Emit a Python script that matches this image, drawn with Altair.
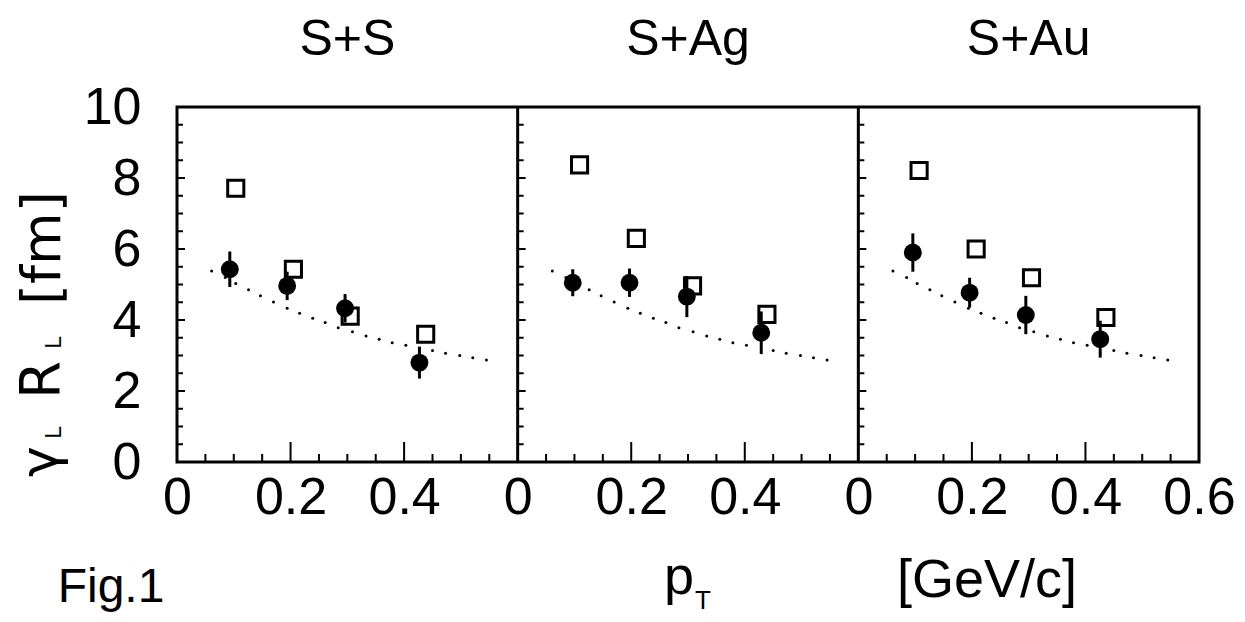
import altair as alt
import pandas as pd

# ---------------- data ----------------
PANELS = ["S+S", "S+Ag", "S+Au"]
PANEL_SPAN = 0.6   # each panel covers pT = 0 .. 0.6 GeV/c
X_MAX = 1.8        # three panels side by side

# filled circles (measured) with error bars
CIRC_X = [[0.093, 0.194, 0.296, 0.427],
          [0.097, 0.197, 0.298, 0.429],
          [0.096, 0.196, 0.295, 0.426]]
CIRC_Y = [[5.43, 4.96, 4.33, 2.80],
          [5.05, 5.05, 4.66, 3.64],
          [5.90, 4.77, 4.14, 3.46]]
CIRC_ERR = [[0.50, 0.40, 0.40, 0.45],
            [0.38, 0.40, 0.58, 0.60],
            [0.54, 0.42, 0.54, 0.52]]

# open squares
SQ_X = [[0.1035, 0.205, 0.305, 0.438],
        [0.109, 0.209, 0.308, 0.439],
        [0.107, 0.2075, 0.305, 0.436]]
SQ_Y = [[7.71, 5.43, 4.11, 3.60],
        [8.37, 6.30, 4.96, 4.16],
        [8.21, 6.00, 5.19, 4.07]]

# dotted curve (same in all panels)
CURVE_X = [0.061, 0.085, 0.1035, 0.126, 0.147, 0.170, 0.194, 0.216, 0.239, 0.261,
           0.284, 0.309, 0.333, 0.356, 0.379, 0.403, 0.450, 0.473, 0.498, 0.521, 0.545]
CURVE_Y = [5.38, 5.20, 5.03, 4.85, 4.68, 4.51, 4.33, 4.19, 4.05, 3.93,
           3.78, 3.67, 3.55, 3.46, 3.36, 3.29, 3.14, 3.06, 3.00, 2.94, 2.87]

# axis decoration
X_MAJOR = [0.2, 0.4]
X_MINOR = [0.05, 0.1, 0.15, 0.25, 0.3, 0.35, 0.45, 0.5, 0.55]
Y_MAJOR = [2, 4, 6, 8]
Y_MINOR = [0.5, 1, 1.5, 2.5, 3, 3.5, 4.5, 5, 5.5, 6.5, 7, 7.5, 8.5, 9, 9.5]
X_LABEL_VALUES = [0, 0.2, 0.4, 0.6, 0.8, 1.0, 1.2, 1.4, 1.6, 1.8]
Y_LABEL_VALUES = [0, 2, 4, 6, 8, 10]

# ---------------- tables ----------------
circ = pd.DataFrame([
    {"p": p, "x": x, "y": y, "e": e}
    for p in range(3)
    for x, y, e in zip(CIRC_X[p], CIRC_Y[p], CIRC_ERR[p])
])
sq = pd.DataFrame([
    {"p": p, "x": x, "y": y}
    for p in range(3)
    for x, y in zip(SQ_X[p], SQ_Y[p])
])
curve = pd.DataFrame([
    {"p": p, "x": x, "y": y}
    for p in range(3)
    for x, y in zip(CURVE_X, CURVE_Y)
])
xt_major = pd.DataFrame([{"p": p, "x": v} for p in range(3) for v in X_MAJOR])
xt_minor = pd.DataFrame([{"p": p, "x": v} for p in range(3) for v in X_MINOR])
yt_major = pd.DataFrame([{"p": p, "x": 0.0, "y": v} for p in range(3) for v in Y_MAJOR])
yt_minor = pd.DataFrame([{"p": p, "x": 0.0, "y": v} for p in range(3) for v in Y_MINOR])
dividers = pd.DataFrame({"p": [1, 2], "x": [0.0, 0.0]})
titles = pd.DataFrame({"p": [0, 1, 2], "x": [0.3, 0.3, 0.3], "t": PANELS})

shift = f"datum.x + {PANEL_SPAN} * datum.p"

xscale = alt.Scale(domain=[0, X_MAX], nice=False, zero=False)
yscale = alt.Scale(domain=[0, 10], nice=False, zero=False)

label_expr = (
    "datum.value > 1.75 ? '0.6' : "
    "(round(datum.value*10) % 6 == 0 ? '0' : format((round(datum.value*10) % 6)/10, '.1f'))"
)

X = alt.X("xs:Q", scale=xscale,
          axis=alt.Axis(values=X_LABEL_VALUES, labelExpr=label_expr, title=None,
                        labelPadding=10, labelFlush=False, labelOverlap=False))
Y = alt.Y("y:Q", scale=yscale,
          axis=alt.Axis(values=Y_LABEL_VALUES, title=None, labelPadding=36,
                        labelFlush=False, labelOverlap=False))

FONT = "Liberation Sans"

base_points = alt.Chart(circ).transform_calculate(xs=shift)

err = base_points.transform_calculate(lo="datum.y - datum.e", hi="datum.y + datum.e").mark_rule(
    color="black", strokeWidth=3
).encode(x=X, y=alt.Y("lo:Q", scale=yscale), y2="hi:Q")

circles = base_points.mark_circle(color="black", opacity=1, size=320).encode(x=X, y=Y)

squares = alt.Chart(sq).transform_calculate(xs=shift).mark_point(
    shape="square", filled=False, color="black", strokeWidth=3, size=260, opacity=1
).encode(x=X, y=Y)

dots = alt.Chart(curve).transform_calculate(xs=shift).mark_circle(
    color="black", opacity=1, size=9
).encode(x=X, y=Y)

div = alt.Chart(dividers).transform_calculate(xs=shift).mark_rule(
    color="black", strokeWidth=3
).encode(x=alt.X("xs:Q", scale=xscale), y=alt.value(0), y2=alt.value(355))

xmaj = alt.Chart(xt_major).transform_calculate(xs=shift).mark_tick(
    orient="vertical", size=20, thickness=2, yOffset=-10, color="black", opacity=1
).encode(x=alt.X("xs:Q", scale=xscale), y=alt.value(355))
xmin = alt.Chart(xt_minor).transform_calculate(xs=shift).mark_tick(
    orient="vertical", size=8, thickness=2, yOffset=-4, color="black", opacity=1
).encode(x=alt.X("xs:Q", scale=xscale), y=alt.value(355))
ymaj = alt.Chart(yt_major).transform_calculate(xs=shift).mark_tick(
    orient="horizontal", size=8, thickness=2, xOffset=4, color="black", opacity=1
).encode(x=alt.X("xs:Q", scale=xscale), y=alt.Y("y:Q", scale=yscale))
ymin = alt.Chart(yt_minor).transform_calculate(xs=shift).mark_tick(
    orient="horizontal", size=6, thickness=2, xOffset=3, color="black", opacity=1
).encode(x=alt.X("xs:Q", scale=xscale), y=alt.Y("y:Q", scale=yscale))

title_text = alt.Chart(titles).transform_calculate(xs=shift).mark_text(
    font=FONT, fontSize=50, baseline="alphabetic", align="center", color="black"
).encode(x=alt.X("xs:Q", scale=xscale), y=alt.value(-52), text="t:N")


def label(text, x, y, size, font=FONT, align="center", angle=0):
    kw = dict(font=font, fontSize=size, baseline="alphabetic", align=align, color="black")
    if angle:
        kw["angle"] = angle
    return alt.Chart(pd.DataFrame({"t": [text]})).mark_text(**kw).encode(
        x=alt.value(x), y=alt.value(y), text="t:N"
    )


bottom = [
    label("Fig.1", -66, 495, 48),
    label("p", 502, 487, 54),
    label("T", 518, 502, 26, align="left"),
    label("[GeV/c]", 810, 490, 54),
]

YF = "DejaVu Sans"
ylab = [
    label("γ", -120, 370, 52, font=YF, align="left", angle=270),
    label("L", -116, 332, 22, font=YF, align="left", angle=270),
    label("R", -118, 292, 55, font=YF, align="left", angle=270),
    label("L", -116, 242, 22, font=YF, align="left", angle=270),
    label("[fm]", -117, 198, 54, font=YF, align="left", angle=270),
]

chart = alt.layer(
    squares, err, circles, dots, div, xmaj, xmin, ymaj, ymin, title_text, *bottom, *ylab
).properties(
    width=1022, height=355,
    autosize=alt.AutoSizeParams(type="none"),
    padding={"left": 169, "top": 99, "right": 38, "bottom": 152},
    background="white",
).configure_view(
    stroke="black", strokeWidth=3
).configure_axis(
    grid=False, domain=False, ticks=False,
    labelFont=FONT, labelFontSize=52, labelColor="black",
)

chart.save("out.html", embed_options={"renderer": "svg", "actions": False})
